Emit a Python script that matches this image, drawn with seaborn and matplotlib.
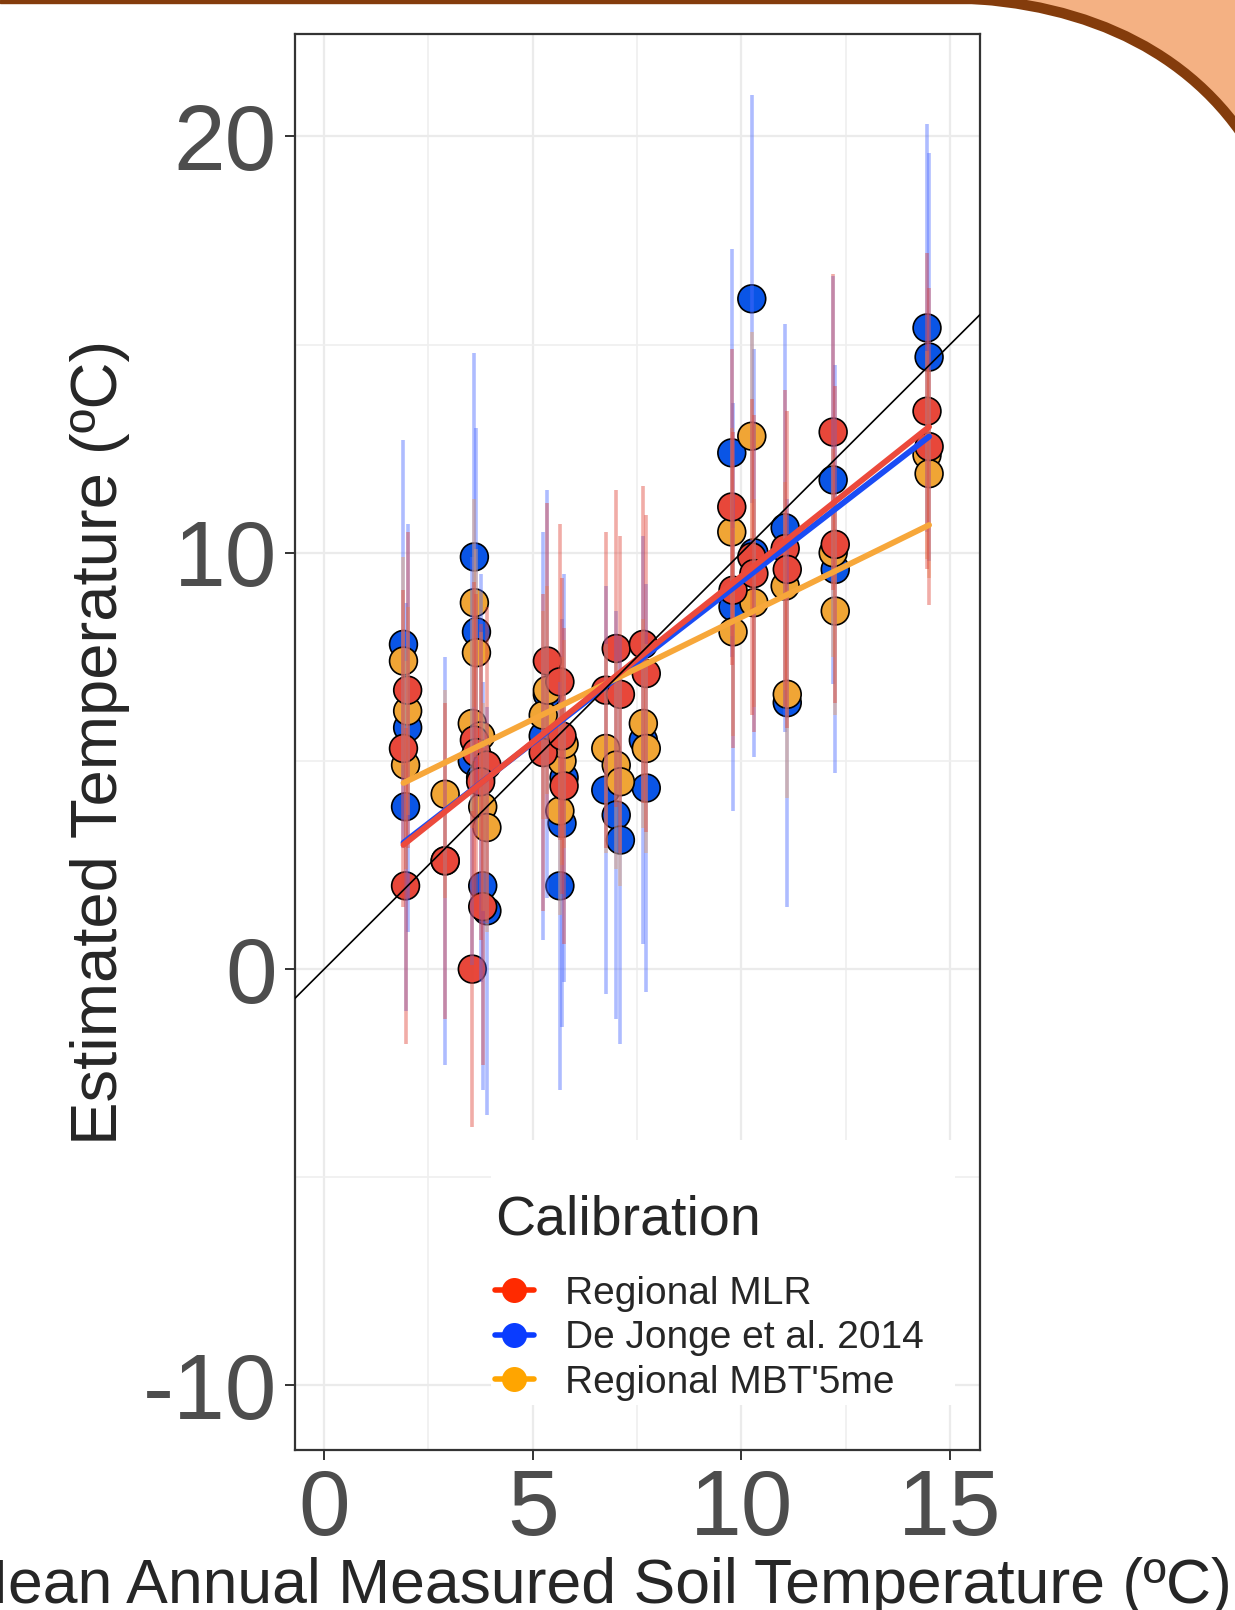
import numpy as np
import pandas as pd
import seaborn as sns
import matplotlib.pyplot as plt
from matplotlib.lines import Line2D
from matplotlib.patches import PathPatch, Rectangle
from matplotlib.path import Path

# measured mean annual soil temperature at each site (x)
site_temp = [1.90, 2.00, 1.95, 2.90, 3.60, 3.65, 3.55, 3.80, 3.90, 3.75,
             5.25, 5.35, 5.65, 5.70, 5.75, 6.75, 7.00, 7.10, 7.65, 7.72,
             9.77, 9.80, 10.25, 10.30, 11.05, 11.10, 12.20, 12.25, 14.45, 14.50]

# estimated temperatures per calibration
mlr = [5.3, 6.7, 2.0, 2.6, 5.5, 5.2, 0.0, 1.5, 4.9, 4.5,
       5.2, 7.4, 6.9, 5.6, 4.4, 6.7, 7.7, 6.6, 7.8, 7.1,
       11.1, 9.1, 9.9, 9.5, 10.1, 9.6, 12.9, 10.2, 13.4, 12.55]
dejonge = [7.8, 5.8, 3.9, 2.6, 9.9, 8.1, 5.0, 2.0, 1.4, 4.6,
           5.6, 6.6, 2.0, 3.5, 4.6, 4.3, 3.7, 3.1, 5.5, 4.35,
           12.4, 8.7, 16.1, 10.0, 10.6, 6.4, 11.75, 9.6, 15.4, 14.7]
mbt = [7.4, 6.2, 4.9, 4.2, 8.8, 7.6, 5.9, 3.9, 3.4, 5.6,
       6.1, 6.7, 3.8, 5.0, 5.4, 5.3, 4.9, 4.5, 5.9, 5.3,
       10.5, 8.1, 12.8, 8.8, 9.2, 6.6, 10.0, 8.6, 12.35, 11.9]

# error bar half-lengths
err_mlr = 3.8
err_dejonge = 4.9
err_mbt = 2.5

labels = ["Regional MLR", "De Jonge et al. 2014", "Regional MBT'5me"]
point_cols = {"Regional MLR": "#E8473A", "De Jonge et al. 2014": "#0A55E6", "Regional MBT'5me": "#F0A535"}
line_cols = {"Regional MLR": "#EC4A3C", "De Jonge et al. 2014": "#1A4CF5", "Regional MBT'5me": "#F7A73A"}
bar_cols = {"Regional MLR": "#E0483C", "De Jonge et al. 2014": "#4D6BFF", "Regional MBT'5me": "#E8A060"}
legend_cols = ["#FF2A00", "#0A3CFF", "#FFA500"]

values = {"Regional MLR": mlr, "De Jonge et al. 2014": dejonge, "Regional MBT'5me": mbt}
errs = {"Regional MLR": err_mlr, "De Jonge et al. 2014": err_dejonge, "Regional MBT'5me": err_mbt}

# long table, drawing order blue -> orange -> red
draw_order = ["De Jonge et al. 2014", "Regional MBT'5me", "Regional MLR"]
df = pd.concat([pd.DataFrame({'Measured': site_temp, 'Estimated': values[k], 'Calibration': k})
                for k in draw_order], ignore_index=True)

sns.set_style('white')
plt.rcParams['font.family'] = ['Liberation Sans', 'DejaVu Sans']
plt.rcParams['axes.unicode_minus'] = False

fig = plt.figure(figsize=(12.35, 16.10), dpi=100)
ax = fig.add_axes([295/1235, 160/1610, 685/1235, 1416/1610])

sns.scatterplot(data=df, x='Measured', y='Estimated', hue='Calibration', palette=point_cols,
                s=400, edgecolor='black', linewidth=1.2, legend=False, ax=ax, zorder=2)

for k in draw_order:
    ax.errorbar(site_temp, values[k], yerr=errs[k], fmt='none', ecolor=bar_cols[k],
                elinewidth=2.6, alpha=0.45, zorder=3)

for k in draw_order:
    sns.regplot(x=site_temp, y=values[k], scatter=False, ci=None, color=line_cols[k],
                line_kws=dict(lw=4.2, zorder=4), ax=ax)

ax.axline((0, 0), slope=1, color='black', lw=1.2, zorder=5)

ax.set_xlim(-0.7, 15.72)
ax.set_ylim(-11.55, 22.46)
ax.set_xticks([0, 5, 10, 15])
ax.set_xticks([2.5, 7.5, 12.5], minor=True)
ax.set_yticks([-10, 0, 10, 20])
ax.set_yticks([-5, 5, 15], minor=True)
ax.grid(which='major', color='#EBEBEB', lw=1.6, zorder=0)
ax.grid(which='minor', color='#EFEFEF', lw=1.2, zorder=0)
ax.set_axisbelow(True)
ax.tick_params(which='major', length=7, width=1.4, color='#333333', labelsize=67,
               labelcolor='#4D4D4D', pad=6, left=True, bottom=True)
ax.tick_params(which='minor', length=0)
for sp in ax.spines.values():
    sp.set_color('#333333')
    sp.set_linewidth(1.6)
ax.set_xlabel('')
ax.set_ylabel('')

fig.text(100/1235, 868/1610, 'Estimated Temperature (ºC)', rotation=90,
         ha='center', va='center', fontsize=47)
fig.text(594/1235, 7/1610, 'Mean Annual Measured Soil Temperature (ºC)',
         ha='center', va='baseline', fontsize=45)

# white legend panel hiding the grid behind it
ax.add_patch(Rectangle((0.286, 0.032), 0.677, 0.187, transform=ax.transAxes,
                       facecolor='white', edgecolor='none', zorder=5.5))

handles = [Line2D([], [], color=c, marker='o', markersize=18, lw=4, markeredgewidth=0)
           for c in legend_cols]
leg = ax.legend(handles, labels, title='Calibration', loc='upper left',
                bbox_to_anchor=(0.275, 0.189), frameon=False,
                fontsize=28, title_fontsize=40,
                handlelength=1.0, handletextpad=0.8, labelspacing=0.22,
                borderpad=0.3, borderaxespad=0, alignment='left')
leg._legend_box.sep = 21.5
leg.set_zorder(6)

# slide decoration: brown top band and orange corner shape
W, H = 1235, 1610
def fp(x, y):
    return (x / W, (H - y) / H)

fig.add_artist(Rectangle(fp(0, 3), 1, 3 / H, transform=fig.transFigure,
                         color='#843C0C', zorder=10))
curve = [(955, -2), (1090, 2), (1200, 55), (1258, 160)]
corner = Path([fp(*p) for p in curve] + [fp(1260, -10), fp(955, -10), fp(955, -2)],
              [Path.MOVETO, Path.CURVE4, Path.CURVE4, Path.CURVE4,
               Path.LINETO, Path.LINETO, Path.CLOSEPOLY])
fig.add_artist(PathPatch(corner, transform=fig.transFigure, facecolor='#F4B183',
                         edgecolor='none', zorder=10))
edge = Path([fp(*p) for p in curve], [Path.MOVETO, Path.CURVE4, Path.CURVE4, Path.CURVE4])
fig.add_artist(PathPatch(edge, transform=fig.transFigure, facecolor='none',
                         edgecolor='#843C0C', lw=7.5, zorder=11))

fig.savefig('out.png', dpi=100)
